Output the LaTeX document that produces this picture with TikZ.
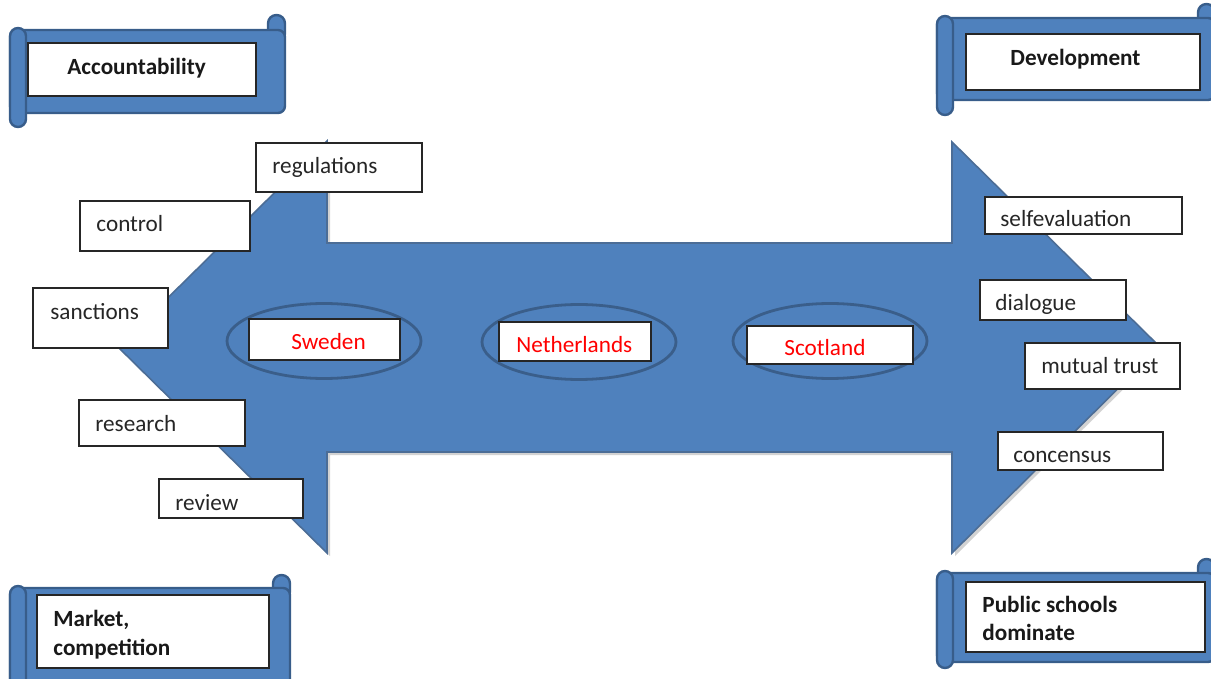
\documentclass[tikz,border=0pt]{standalone}
\usepackage{fontspec}
\setmainfont{Carlito}
\usetikzlibrary{shapes.geometric,fit}
\definecolor{ablue}{HTML}{4F81BD}
\definecolor{dblue}{HTML}{385D8A}
\definecolor{eblue}{HTML}{3A5E8A}
\newcommand\tbx[8]{%
  \node[wbox, fit={(#2,#3) (#4,#5)}] (#1) {};
  \node[lbl] (#1t) at (#6,#7) {#8};}
\newcommand\scrollshape[6]{% x0, yt, x1, yb, rolltop, leftbottom
  \path[scr, rounded corners=4.2pt] (#3-17,#2+12) rectangle (#3,#5);
  \path[scr] (#1,#2) rectangle (#3,#4);
  \path[scr, rounded corners=4pt] (#1,#2-2) rectangle (#1+16,#6);
}
\begin{document}
\begin{tikzpicture}[x=0.5pt,y=-0.5pt,
  wbox/.style={draw=black!85, fill=white, line width=0.6pt, inner sep=0pt},
  lbl/.style={font=\fontsize{11.6}{14}\selectfont, inner sep=0pt, anchor=base west, text=black!85},
  blbl/.style={font=\fontsize{11.6}{14}\selectfont\bfseries, inner sep=0pt, anchor=base west, text=black!90},
  rlbl/.style={lbl, text=red},
  scr/.style={fill=ablue, draw=dblue, line width=1.2pt, rounded corners=3.5pt},
  ring/.style={ellipse, draw=eblue, line width=1.4pt, minimum width=97pt, minimum height=37.5pt, inner sep=0pt},
  arrowshape/.style={fill=ablue, draw=dblue!90, line width=0.8pt, line join=miter},
]
\useasboundingbox (0,0) rectangle (1211,679);

% big double arrow
\fill[black!35, opacity=0.5] (121,350) -- (330,144) -- (330,246) -- (955,246) -- (955,145) -- (1163,350) -- (955,556) -- (955,455) -- (330,455) -- (330,556) -- cycle;
\path[arrowshape] (118,347) -- (327,141) -- (327,243) -- (952,243) -- (952,142) -- (1160,347) -- (952,553) -- (952,452) -- (327,452) -- (327,553) -- cycle;

% ellipses with country boxes
\node[ring] (e1) at (324,341) {};
\node[ring] (e2) at (579,342) {};
\node[ring] (e3) at (830,341) {};
\node[wbox, fit={(249,319) (400,360)}] (sw) {};
\node[rlbl] (swt) at (291,350) {Sweden};
\node[wbox, fit={(499,322) (651,361)}] (nl) {};
\node[rlbl] (nlt) at (516,353) {Netherlands};
\node[wbox, fit={(747,326) (913,364)}] (sc) {};
\node[rlbl] (sct) at (784,356) {Scotland};

% left boxes
\tbx{reg}{256}{143}{422}{192}{272}{174}{regulations}
\tbx{con}{80}{201}{250}{251}{96}{232}{control}
\tbx{san}{33}{288}{168}{348}{50}{320}{sanctions}
\tbx{res}{79}{400}{245}{446}{95}{431}{research}
\tbx{rev}{159}{479}{303}{518}{175}{510}{review}

% right boxes
\tbx{sel}{985}{197}{1182}{234}{1000}{227}{selfevaluation}
\tbx{dia}{980}{280}{1126}{320}{995}{311}{dialogue}
\tbx{mut}{1025}{343}{1180}{389}{1041}{374}{mutual trust}
\tbx{cns}{998}{432}{1163}{470}{1013}{462}{concensus}

% scrolls
\scrollshape{10}{30}{285}{113}{15}{127}
\node[wbox, fit={(28,43) (256,96)}] (acc) {};
\node[blbl] (acct) at (67,75) {Accountability};

\scrollshape{937}{18}{1215}{100}{4}{115}
\node[wbox, fit={(966,34) (1200,90)}] (dev) {};
\node[blbl] (devt) at (1010,66) {Development};

\scrollshape{10}{588}{290}{695}{575}{705}
\node[wbox, fit={(37,595) (269,668)}] (mkt) {};
\node[blbl] (mkt1) at (53,626) {Market,};
\node[blbl] (mkt2) at (53,655) {competition};

\scrollshape{937}{573}{1215}{662}{559}{668}
\node[wbox, fit={(966,582) (1205,652)}] (pub) {};
\node[blbl] (pub1) at (982,612) {Public schools};
\node[blbl] (pub2) at (982,640) {dominate};
\end{tikzpicture}
\end{document}
